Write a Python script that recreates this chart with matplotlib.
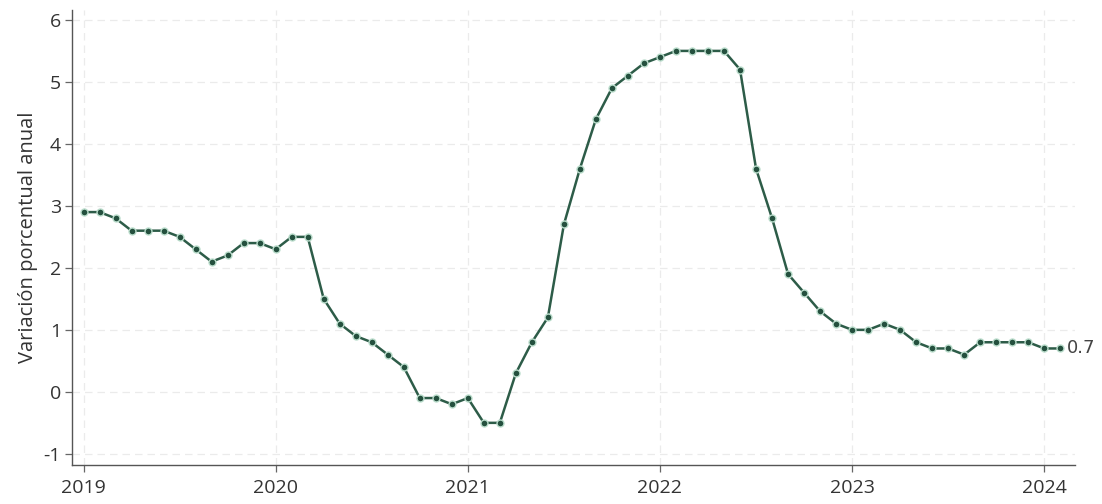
import matplotlib
matplotlib.use("Agg")
import matplotlib.pyplot as plt
import numpy as np

start_year = 2019
values = [
    2.9, 2.9, 2.8, 2.6, 2.6, 2.6, 2.5, 2.3, 2.1, 2.2, 2.4, 2.4,
    2.3, 2.5, 2.5, 1.5, 1.1, 0.9, 0.8, 0.6, 0.4, -0.1, -0.1, -0.2,
    -0.1, -0.5, -0.5, 0.3, 0.8, 1.2, 2.7, 3.6, 4.4, 4.9, 5.1, 5.3,
    5.4, 5.5, 5.5, 5.5, 5.5, 5.2, 3.6, 2.8, 1.9, 1.6, 1.3, 1.1,
    1.0, 1.0, 1.1, 1.0, 0.8, 0.7, 0.7, 0.6, 0.8, 0.8, 0.8, 0.8,
    0.7, 0.7,
]
year_ticks = [2019, 2020, 2021, 2022, 2023, 2024]
y_ticks = [-1, 0, 1, 2, 3, 4, 5, 6]
y_label = "Variación porcentual anual"

x = np.array([start_year + i / 12 for i in range(len(values))])

plt.rcParams['font.family'] = ['Open Sans', 'DejaVu Sans']
fig = plt.figure(figsize=(11.02, 5.04), dpi=100)
ax = fig.add_axes([72/1102, 1 - 465/504, (1075-72)/1102, (465-10)/504])

ax.plot(x, values, color='#2d5c48', lw=1.8, marker='o', ms=5,
        mfc='#24503e', mec='#b9dccb', mew=1.0, zorder=3)

ax.annotate(f"{values[-1]:.1f}", xy=(x[-1], values[-1]), xytext=(5, 0),
            textcoords='offset points', va='center', ha='left',
            fontsize=13, color='#444444', family='DejaVu Sans')

ax.set_xlim(2018.94, 2024.16)
ax.set_ylim(-1.18, 6.16)
ax.set_xticks(year_ticks)
ax.set_xticklabels([str(y) for y in year_ticks])
ax.set_yticks(y_ticks)
ax.set_yticklabels([str(v) for v in y_ticks])

ax.grid(True, color='#ebebeb', linestyle=(0, (6, 4)), lw=0.9, zorder=0)
for s in ['top', 'right']:
    ax.spines[s].set_visible(False)
for s in ['left', 'bottom']:
    ax.spines[s].set_color('#555555')
    ax.spines[s].set_linewidth(1.0)
ax.tick_params(axis='both', colors='#666666', labelcolor='#333333',
               labelsize=14, length=5, width=0.9)
ax.tick_params(axis='x', pad=5)
ax.tick_params(axis='y', pad=3)
ax.set_ylabel(y_label, fontsize=14.5, color='#333333', labelpad=4)

fig.savefig("out.png", dpi=100)
